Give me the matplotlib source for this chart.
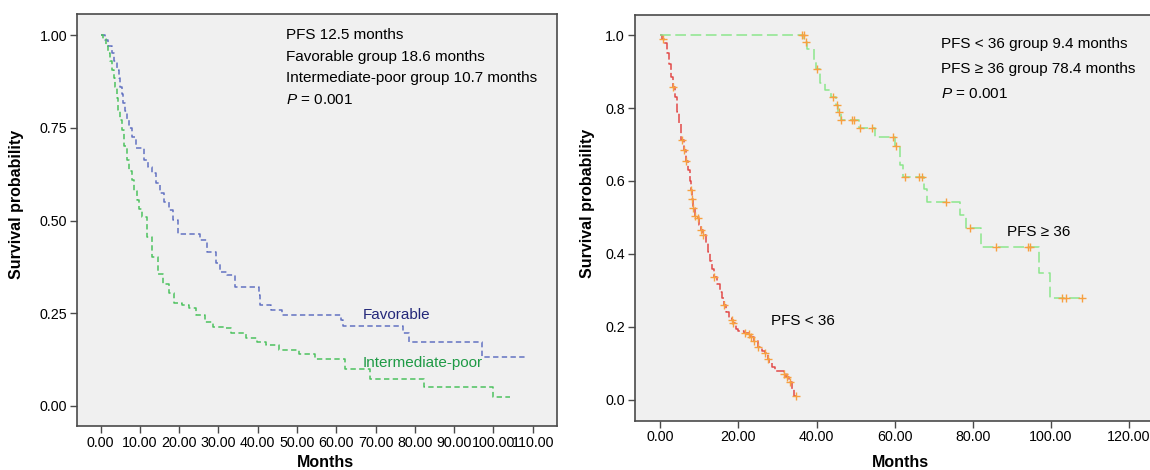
import numpy as np
import matplotlib
matplotlib.use('Agg')
import matplotlib.pyplot as plt

plt.rcParams['font.family'] = ['Liberation Sans', 'DejaVu Sans']
plt.rcParams['mathtext.fontset'] = 'custom'
plt.rcParams['mathtext.it'] = 'Liberation Sans:italic'
plt.rcParams['mathtext.rm'] = 'Liberation Sans'

# ---- left panel: risk groups ----
fav_t = [0, 1.1, 2.0, 2.9, 3.5, 4.1, 4.6, 5.0, 5.4, 5.8, 6.2, 6.7, 7.3, 7.9, 9.1,
         11.0, 12.0, 13.0, 14.1, 15.2, 16.2, 17.3, 18.5, 19.7, 25.3, 27.2, 29.5,
         30.4, 32.3, 34.2, 40.2, 40.7, 43.5, 46.3, 61.2, 61.7, 77.1, 78.5, 97.2]
fav_s = [1.0, 0.987, 0.97, 0.951, 0.93, 0.906, 0.885, 0.861, 0.84, 0.816, 0.795,
         0.771, 0.75, 0.726, 0.695, 0.663, 0.645, 0.627, 0.6, 0.573, 0.55, 0.528,
         0.501, 0.465, 0.447, 0.416, 0.385, 0.362, 0.353, 0.322, 0.299, 0.272,
         0.259, 0.245, 0.232, 0.216, 0.196, 0.173, 0.131]
fav_end = 108.4

int_t = [0, 0.7, 1.4, 2.0, 2.5, 2.9, 3.3, 3.7, 4.1, 4.5, 5.0, 5.4, 6.0, 6.7, 7.3,
         7.9, 8.5, 9.2, 9.8, 10.5, 11.8, 13.2, 14.6, 16.0, 17.4, 18.8, 20.6, 22.5,
         24.4, 26.7, 28.6, 31.8, 33.2, 36.9, 39.8, 42.1, 45.4, 50.5, 54.7, 62.2,
         68.7, 82.3, 100.0]
int_s = [1.0, 0.99, 0.97, 0.951, 0.93, 0.906, 0.885, 0.861, 0.83, 0.798, 0.77,
         0.744, 0.70, 0.663, 0.635, 0.609, 0.58, 0.555, 0.53, 0.51, 0.456, 0.402,
         0.357, 0.33, 0.304, 0.277, 0.272, 0.263, 0.245, 0.227, 0.214, 0.209,
         0.196, 0.182, 0.173, 0.164, 0.151, 0.14, 0.128, 0.101, 0.073, 0.05, 0.025]
int_end = 104.2

left_xticks = [0, 10, 20, 30, 40, 50, 60, 70, 80, 90, 100, 110]
left_yticks = [0.0, 0.25, 0.5, 0.75, 1.0]
left_notes = ['PFS 12.5 months', 'Favorable group 18.6 months',
              'Intermediate-poor group 10.7 months', r'$\it{P}$ = 0.001']

# ---- right panel: PFS < 36 vs PFS >= 36 ----
red_t = [0, 0.5, 1.0, 1.6, 2.2, 2.8, 3.3, 3.8, 4.3, 4.8, 5.4, 6.0, 6.5, 7.0, 7.5,
         7.8, 8.1, 8.4, 8.8, 9.5, 10.0, 10.5, 11.0, 11.6, 12.2, 12.8, 13.3, 13.8,
         14.5, 15.2, 15.8, 16.2, 16.9, 17.5, 18.3, 18.7, 19.3, 19.9, 21.3, 22.6,
         23.2, 24.1, 25.1, 26.0, 26.8, 27.5, 27.9, 28.5, 29.3, 31.7, 32.3, 33.0,
         33.6, 34.3]
red_s = [1.0, 0.99, 0.978, 0.952, 0.92, 0.885, 0.857, 0.83, 0.79, 0.755, 0.712,
         0.685, 0.655, 0.63, 0.6, 0.575, 0.55, 0.525, 0.505, 0.498, 0.48, 0.466,
         0.452, 0.43, 0.405, 0.38, 0.36, 0.338, 0.318, 0.295, 0.278, 0.26, 0.24,
         0.225, 0.219, 0.21, 0.195, 0.188, 0.184, 0.18, 0.173, 0.16, 0.146, 0.135,
         0.128, 0.112, 0.1, 0.09, 0.078, 0.07, 0.062, 0.048, 0.03, 0.01]
red_end = 34.8
red_cens = [0.7, 3.3, 5.6, 6.1, 6.6, 7.8, 8.2, 8.4, 8.9, 9.6, 10.5, 11.0, 13.8,
            16.2, 18.3, 18.7, 21.8, 22.7, 23.2, 24.1, 25.1, 26.8, 27.6, 31.8,
            32.4, 33.3, 34.8]

grn_t = [0, 36.9, 37.6, 39.3, 39.8, 40.8, 42.2, 43.8, 45.0, 45.6, 46.2, 50.8, 54.9,
         60.0, 61.5, 62.2, 67.6, 68.4, 76.7, 78.4, 82.1, 97.0, 99.9]
grn_s = [1.0, 0.982, 0.963, 0.93, 0.906, 0.868, 0.849, 0.831, 0.808, 0.788, 0.767,
         0.744, 0.721, 0.696, 0.644, 0.611, 0.577, 0.543, 0.507, 0.47, 0.418,
         0.349, 0.279]
grn_end = 108.1
grn_cens = [36.2, 36.8, 37.3, 40.0, 44.3, 45.3, 45.8, 46.4, 49.0, 49.6, 51.2, 54.1,
            59.6, 60.3, 62.6, 66.3, 66.9, 73.3, 79.3, 86.1, 94.2, 94.8, 103.0,
            103.8, 108.1]

right_xticks = [0, 20, 40, 60, 80, 100, 120]
right_yticks = [0.0, 0.2, 0.4, 0.6, 0.8, 1.0]
right_notes = ['PFS < 36 group 9.4 months', 'PFS \u2265 36 group 78.4 months',
               r'$\it{P}$ = 0.001']


def km_step(ax, t, s, t_end, **kw):
    x = np.append(t, t_end)
    y = np.append(s, s[-1])
    ax.step(x, y, where='post', **kw)


def censor_y(t, s, c):
    idx = np.searchsorted(t, c, side='right') - 1
    return np.asarray(s)[idx]


def style_axes(ax):
    ax.set_facecolor('#f0f0f0')
    for sp in ax.spines.values():
        sp.set_color('#4a4a4a')
        sp.set_linewidth(1.2)
    ax.tick_params(direction='out', length=5, width=1, color='#4a4a4a',
                   labelsize=10.3, pad=2)


fig = plt.figure(figsize=(11.5, 4.7), dpi=100)

# left
ax1 = fig.add_axes([0.067, 0.0936, 0.4177, 0.8766])
style_axes(ax1)
km_step(ax1, fav_t, fav_s, fav_end, color='#6272c2', lw=1.1, ls=(0, (3.5, 2.2)))
km_step(ax1, int_t, int_s, int_end, color='#4cc25e', lw=1.1, ls=(0, (3.5, 2.2)))
ax1.set_xlim(-6.0, 116.3)
ax1.set_ylim(-0.054, 1.057)
ax1.set_xticks(left_xticks)
ax1.set_xticklabels(['%.2f' % v for v in left_xticks])
ax1.set_yticks(left_yticks)
ax1.set_yticklabels(['%.2f' % v for v in left_yticks])
ax1.set_xlabel('Months', fontsize=11.5, fontweight='bold')
ax1.set_ylabel('Survival probability', fontsize=11.5, fontweight='bold')
ax1.xaxis.set_label_coords(0.517, -0.070)
ax1.yaxis.set_label_coords(-0.110, 0.539)
for i, line in enumerate(left_notes):
    ax1.text(47.1, 1.0 - i * 0.058, line, fontsize=11, va='center', ha='left')
ax1.text(66.8, 0.245, 'Favorable', color='#24287a', fontsize=11, va='center')
ax1.text(66.8, 0.117, 'Intermediate-poor', color='#1e9a45', fontsize=11,
         va='center')

# right
ax2 = fig.add_axes([0.552, 0.105, 0.4567, 0.8638])
style_axes(ax2)
km_step(ax2, red_t, red_s, red_end, color='#e24a48', lw=1.1, ls=(0, (6, 2)))
km_step(ax2, grn_t, grn_s, grn_end, color='#8ce68c', lw=1.1, ls=(0, (7, 3)))
ax2.plot(red_cens, censor_y(red_t, red_s, red_cens), ls='none', marker='+',
         ms=6, mew=1.0, color='#f7a040')
ax2.plot(grn_cens, censor_y(grn_t, grn_s, grn_cens), ls='none', marker='+',
         ms=6, mew=1.0, color='#f7a040')
ax2.set_xlim(-6.55, 128)
ax2.set_ylim(-0.057, 1.056)
ax2.set_xticks(right_xticks)
ax2.set_xticklabels(['%.2f' % v for v in right_xticks])
ax2.set_yticks(right_yticks)
ax2.set_yticklabels(['%.1f' % v for v in right_yticks])
ax2.set_xlabel('Months', fontsize=11.5, fontweight='bold')
ax2.set_ylabel('Survival probability', fontsize=11.5, fontweight='bold')
ax2.xaxis.set_label_coords(0.506, -0.085)
ax2.yaxis.set_label_coords(-0.076, 0.534)
for i, line in enumerate(right_notes):
    ax2.text(72.0, 0.975 - i * 0.0685, line, fontsize=11, va='center', ha='left')
ax2.text(28.3, 0.217, 'PFS < 36', fontsize=11, va='center')
ax2.text(88.8, 0.459, 'PFS \u2265 36', fontsize=11, va='center')

fig.savefig('out.png', dpi=100)
